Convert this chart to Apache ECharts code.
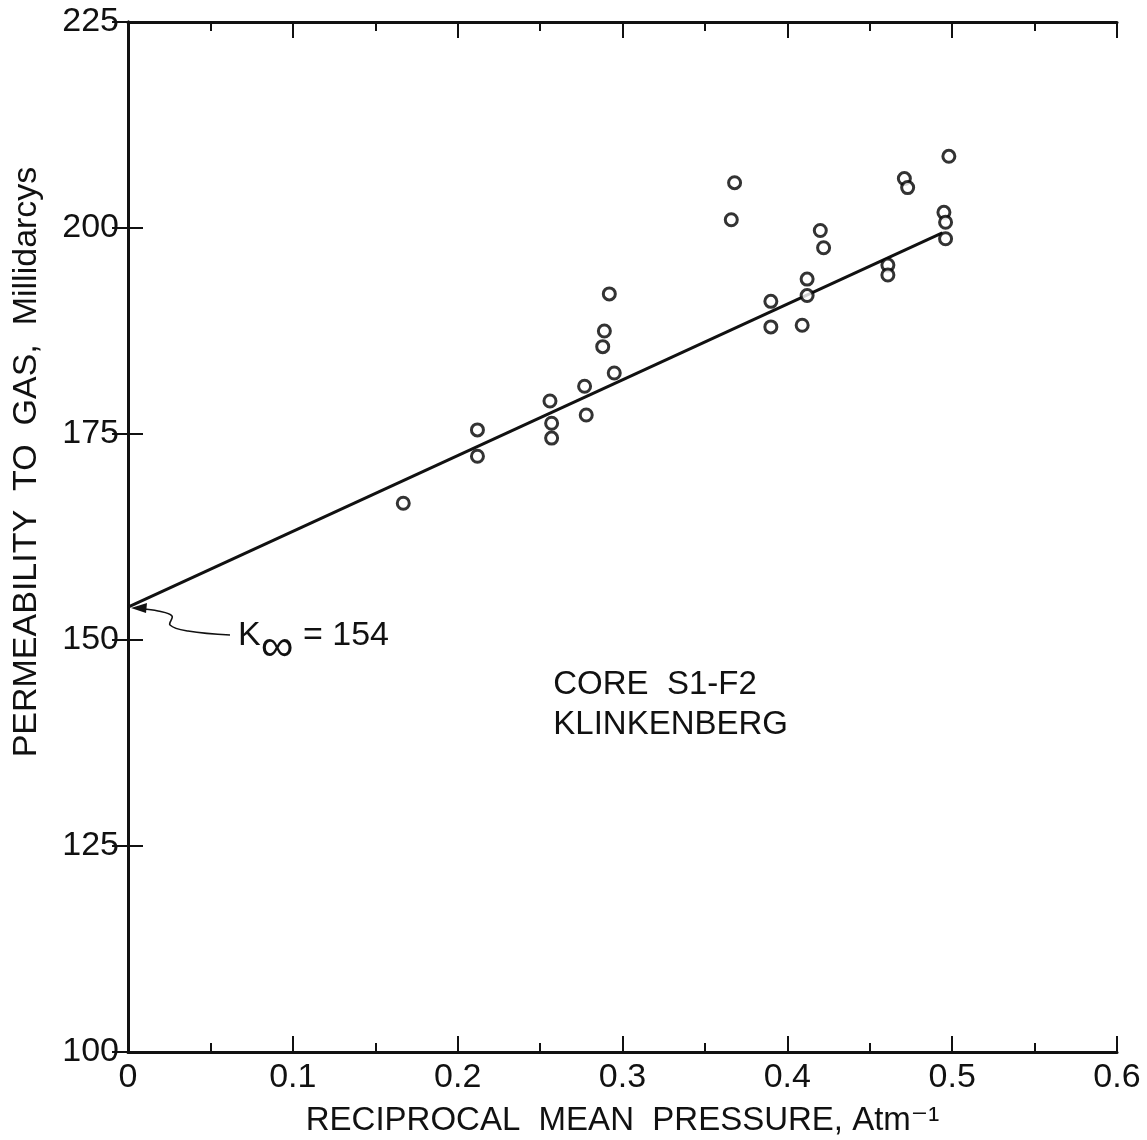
<!DOCTYPE html>
<html>
<head>
<meta charset="utf-8">
<script src="https://cdn.jsdelivr.net/npm/echarts@6/dist/echarts.min.js"></script>
<style>
  html, body { margin: 0; padding: 0; background: #fff; }
  #main { width: 1147px; height: 1140px; }
</style>
</head>
<body>
<div id="main"></div>
<script>
// reciprocal mean pressure (1/atm)
var pressX = [0.167, 0.212, 0.212, 0.256, 0.257, 0.257, 0.277, 0.278, 0.288, 0.289,
              0.292, 0.295, 0.366, 0.368, 0.390, 0.390, 0.409, 0.412, 0.412, 0.420,
              0.422, 0.461, 0.461, 0.471, 0.473, 0.495, 0.496, 0.496, 0.498];
// permeability to gas (md)
var permY = [166.6, 175.5, 172.3, 179.0, 176.3, 174.5, 180.8, 177.3, 185.6, 187.5,
             192.0, 182.4, 201.0, 205.5, 191.1, 188.0, 188.2, 193.8, 191.8, 199.7,
             197.6, 195.5, 194.3, 206.0, 204.9, 201.9, 200.7, 198.7, 208.7];
// fitted Klinkenberg line
var fitX = [0, 0.494];
var fitY = [154, 199.4];
var kInf = 154;

var xTicks = ['0', '0.1', '0.2', '0.3', '0.4', '0.5', '0.6'];
var yTicks = ['100', '125', '150', '175', '200', '225'];

var font = '"Liberation Sans", "DejaVu Sans", sans-serif';
var ink = '#111';

var pts = pressX.map(function (x, i) { return [x, permY[i]]; });
var fit = fitX.map(function (x, i) { return [x, fitY[i]]; });

var myChart = echarts.init(document.getElementById('main'));

var axisLine = { show: true, lineStyle: { color: ink, width: 3 } };

option = {
    backgroundColor: '#fff',
    animation: false,
    grid: { left: 128, right: 30, top: 22, bottom: 88, containLabel: false, outerBoundsMode: 'none' },
    xAxis: [
        {
            type: 'value', min: 0, max: 0.6, interval: 0.1,
            position: 'bottom',
            axisLine: axisLine,
            axisTick: { inside: true, length: 16, lineStyle: { color: ink, width: 2 } },
            minorTick: { show: true, splitNumber: 2, length: 9, lineStyle: { color: ink, width: 2 } },
            splitLine: { show: false },
            axisLabel: {
                margin: 9, color: ink, fontSize: 34, fontFamily: font,
                formatter: function (v) { return xTicks[Math.round(v * 10)]; }
            },
            name: 'RECIPROCAL  MEAN  PRESSURE, Atm⁻¹',
            nameLocation: 'middle', nameGap: 52,
            nameTextStyle: { color: ink, fontSize: 33, fontFamily: font }
        },
        {
            type: 'value', min: 0, max: 0.6, interval: 0.1,
            position: 'top',
            axisLine: axisLine,
            axisTick: { inside: true, length: 16, lineStyle: { color: ink, width: 2 } },
            minorTick: { show: true, splitNumber: 2, length: 9, lineStyle: { color: ink, width: 2 } },
            splitLine: { show: false },
            axisLabel: { show: false }
        }
    ],
    yAxis: [
        {
            type: 'value', min: 100, max: 225, interval: 25,
            position: 'left',
            axisLine: axisLine,
            axisTick: { inside: true, length: 15, lineStyle: { color: ink, width: 2 } },
            splitLine: { show: false },
            axisLabel: {
                margin: 9, color: ink, fontSize: 34, fontFamily: font,
                formatter: function (v) { return yTicks[Math.round((v - 100) / 25)]; }
            },
            name: 'PERMEABILITY  TO  GAS,  Millidarcys',
            nameLocation: 'middle', nameGap: 84, nameRotate: 90,
            nameTextStyle: { color: ink, fontSize: 34, fontFamily: font, padding: [0, 0, 0, 150] }
        },
        {
            type: 'value', min: 100, max: 225, interval: 25,
            position: 'right',
            axisLine: axisLine,
            axisTick: { inside: true, length: 16, lineStyle: { color: ink, width: 2 } },
            splitLine: { show: false },
            axisLabel: { show: false }
        }
    ],
    series: [
        {
            name: 'fit',
            type: 'line',
            data: fit,
            symbol: 'none',
            lineStyle: { color: ink, width: 3 },
            z: 2
        },
        {
            name: 'data',
            type: 'scatter',
            data: pts,
            symbol: 'circle',
            symbolSize: 12,
            itemStyle: { color: '#fff', borderColor: '#000', borderWidth: 3 },
            z: 3
        }
    ]
};

myChart.setOption(option);

// annotations placed from data coordinates
var p = myChart.convertToPixel({ xAxisIndex: 0, yAxisIndex: 0 }, [0, kInf]);
var c = myChart.convertToPixel({ xAxisIndex: 0, yAxisIndex: 0 }, [0.258, 147]);

myChart.setOption({
    graphic: [
        {
            type: 'polyline',
            shape: {
                points: [
                    [p[0] + 102, p[1] + 28], [p[0] + 60, p[1] + 24], [p[0] + 42, p[1] + 18],
                    [p[0] + 44, p[1] + 9], [p[0] + 30, p[1] + 4], [p[0] + 14, p[1] + 2]
                ],
                smooth: 0.4
            },
            style: { stroke: ink, lineWidth: 1.6, fill: null }
        },
        {
            type: 'polygon',
            shape: { points: [[p[0] + 3, p[1] + 1], [p[0] + 19, p[1] - 4], [p[0] + 18, p[1] + 6]] },
            style: { fill: ink }
        },
        {
            type: 'text',
            left: p[0] + 110, top: p[1] + 12,
            style: {
                text: 'K{s|∞}{n| = 154}',
                fill: ink, font: '34px ' + font,
                rich: {
                    s: { fontSize: 46, fontFamily: font, fill: ink, padding: [24, 0, 0, 0] },
                    n: { fontSize: 34, fontFamily: font, fill: ink }
                }
            }
        },
        {
            type: 'text',
            left: c[0], top: c[1],
            style: {
                text: 'CORE  S1-F2\nKLINKENBERG',
                fill: ink, font: '33px ' + font, lineHeight: 40
            }
        }
    ]
});
</script>
</body>
</html>
